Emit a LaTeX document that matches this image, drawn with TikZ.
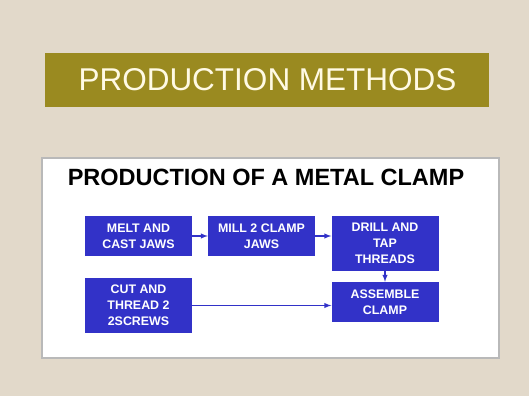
\documentclass[tikz,border=0pt]{standalone}
\usepackage{fontspec}
\setmainfont{Liberation Sans}
\usetikzlibrary{arrows}

\definecolor{paper}{RGB}{226,217,202}
\definecolor{olive}{RGB}{154,138,32}
\definecolor{cream}{RGB}{255,250,228}
\definecolor{stepblue}{RGB}{50,50,200}

\tikzset{
  stepbox/.style={fill=stepblue, text=white, inner sep=0pt, align=center,
    minimum width=107pt, font=\fontsize{12.4}{16}\selectfont\bfseries},
  flow/.style={-latex, stepblue, line width=1.4pt}
}

\begin{document}
\begin{tikzpicture}[x=1pt, y=-1pt]
        % page and panels
        \fill[paper] (0,0) rectangle (529,396);
        \useasboundingbox (0,0) rectangle (529,396);
        \fill[olive] (45,53) rectangle (489,107);
        \node[anchor=base, text=cream, font=\fontsize{31.5}{36}\selectfont] (title) at (267.5,90) {PRODUCTION METHODS};
        \draw[fill=white, draw=gray!55, line width=1.2pt] (42,158) rectangle (499,358);
        \node[anchor=base, font=\fontsize{23.5}{28}\selectfont\bfseries] (sub) at (266,185) {PRODUCTION OF A METAL CLAMP};

        % the steps
        \node[stepbox, minimum height=40pt] (melt) at (138.5,236) {MELT AND\\CAST JAWS};
        \node[stepbox, minimum height=40pt] (mill) at (261.5,236) {MILL 2 CLAMP\\JAWS};
        \node[stepbox, minimum height=55pt] (drill) at (385,243.5) {DRILL AND\\TAP\\THREADS};
        \node[stepbox, minimum height=55pt] (cut) at (138.5,305.5) {CUT AND\\THREAD 2\\2SCREWS};
        \node[stepbox, minimum height=40pt] (assemble) at (385,302) {ASSEMBLE\\CLAMP};

        \draw[flow] (melt) -- (mill);
        \draw[flow] (mill) -- (drill.west |- mill);
        \draw[flow] (drill) -- (assemble);
        \draw[flow] (cut.east) -- (cut.east -| assemble.west);
    \end{tikzpicture}
\end{document}
